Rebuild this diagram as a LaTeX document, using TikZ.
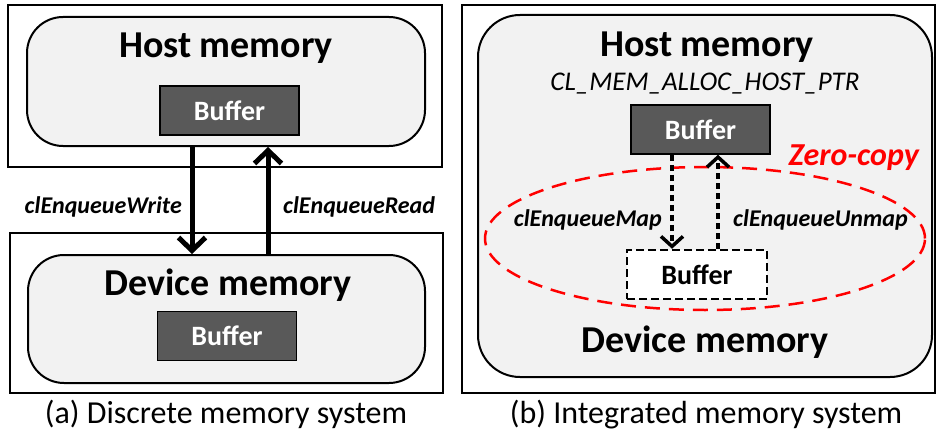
\documentclass[tikz,border=0pt]{standalone}
\usepackage{fontspec}
\setmainfont{Carlito}
\usetikzlibrary{arrows.meta,shapes.geometric}
\definecolor{bufgray}{HTML}{595959}
\definecolor{memfill}{HTML}{F2F2F2}
\definecolor{zcred}{HTML}{FF0000}
\newcommand{\fsz}[1]{\fontsize{#1}{#1}\selectfont}
\tikzset{
  memory/.style={draw, line width=2pt, fill=memfill, rounded corners=#1},
  bufdark/.style={draw, line width=1.5pt, fill=bufgray, text=white,
    font=\fsz{28}\bfseries, minimum width=139pt, minimum height=49pt, inner sep=0pt},
  buflight/.style={draw, line width=2.5pt, dash pattern=on 8pt off 4pt, fill=white,
    font=\fsz{28}\bfseries, minimum width=140pt, minimum height=49pt, inner sep=0pt},
  title/.style={font=\fsz{38}\bfseries, inner sep=0pt, anchor=base},
  call/.style={font=\fsz{24}\bfseries\itshape, inner sep=0pt},
  caption/.style={font=\fsz{32}, inner sep=0pt, anchor=base},
  copyarrow/.style={line width=5pt, -{Straight Barb[length=13pt, width=27pt]}},
  maparrow/.style={line width=3.5pt, dash pattern=on 6pt off 4pt,
    -{Straight Barb[length=10pt, width=22pt]}},
}
\begin{document}
\begin{tikzpicture}[x=1pt, y=-1pt]
\useasboundingbox (0,0) rectangle (937,436);

% ---------- (a) discrete memory system ----------
\node[draw, line width=2pt, minimum width=434pt, minimum height=162pt] (frameAH) at (225,86) {};
\node[memory=36pt, minimum width=398pt, minimum height=129pt] (hostA) at (226,81.5) {};
\node[title] (hostAt) at (226,58) {Host memory};
\node[bufdark] (bufAH) at (229.5,110.5) {Buffer};

\node[draw, line width=2pt, minimum width=433pt, minimum height=160pt] (frameAD) at (226.5,313) {};
\node[memory=36pt, minimum width=397pt, minimum height=128pt] (devA) at (226.5,319) {};
\node[title] (devAt) at (228,295) {Device memory};
\node[bufdark] (bufAD) at (227,336) {Buffer};

\draw[copyarrow] ([xshift=-34pt]hostA.south) -- ([xshift=-34pt]hostA.south |- devA.north);
\draw[copyarrow] ([xshift=42pt]hostA.south |- devA.north) -- ([xshift=42pt]hostA.south);

\node[call, anchor=east] (writeL) at (182,207) {clEnqueueWrite};
\node[call, anchor=west] (readL) at (283,207) {clEnqueueRead};

\node[caption] (capA) at (226,423) {(a) Discrete memory system};

% ---------- (b) integrated memory system ----------
\node[draw, line width=2pt, minimum width=473pt, minimum height=388pt] (frameB) at (698.5,199) {};
\node[memory=42pt, minimum width=454pt, minimum height=362pt] (memB) at (705,196) {};
\node[title] (hostBt) at (707,57) {Host memory};
\node[font=\fsz{27}\itshape, inner sep=0pt, anchor=base] (flagB) at (705,91) {CL\_MEM\_ALLOC\_HOST\_PTR};
\node[bufdark] (bufBH) at (700.5,129.5) {Buffer};

\node[draw=zcred, line width=2.5pt, dash pattern=on 15pt off 9pt, ellipse,
      minimum width=440pt, minimum height=143pt, inner sep=0pt] (zc) at (705,238.5) {};
\node[font=\fsz{32}\bfseries\itshape, text=zcred, inner sep=0pt, anchor=base east] (zcL) at (919,165) {Zero-copy};

\node[buflight] (bufBD) at (697,274.5) {Buffer};

\draw[maparrow] ([xshift=-28.5pt]bufBH.south) -- ([xshift=-28.5pt]bufBH.south |- bufBD.north);
\draw[maparrow] ([xshift=17.5pt]bufBH.south |- bufBD.north) -- ([xshift=17.5pt]bufBH.south);

\node[call, anchor=east] (mapL) at (662,220) {clEnqueueMap};
\node[call, anchor=west] (unmapL) at (733,220) {clEnqueueUnmap};

\node[title] (devBt) at (705,352) {Device memory};

\node[caption] (capB) at (706,423) {(b) Integrated memory system};
\end{tikzpicture}
\end{document}
